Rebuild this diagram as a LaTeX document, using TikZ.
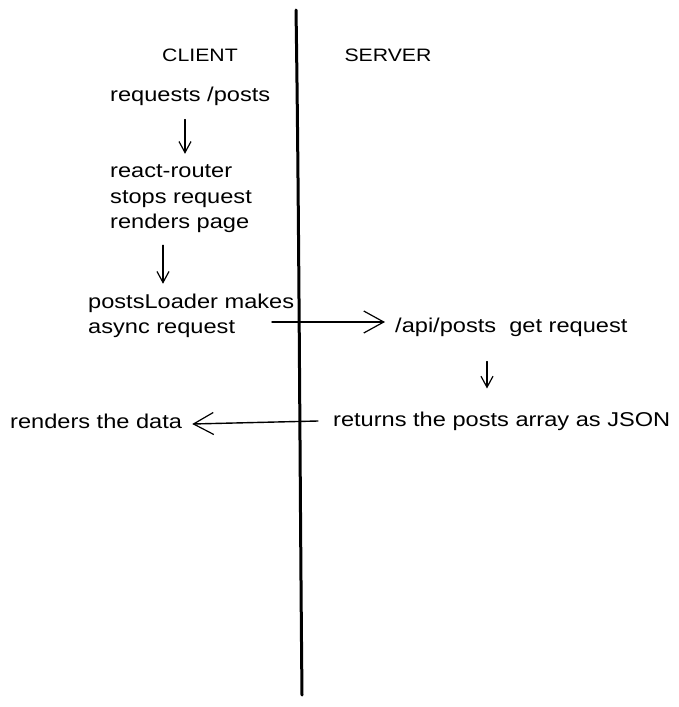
\documentclass[tikz,border=0pt]{standalone}
\usepackage{fontspec}
\setmainfont[FakeStretch=1.18]{Liberation Sans}
\usetikzlibrary{arrows.meta,calc}
\tikzset{
  lbl/.style={inner sep=0pt, anchor=west, align=left, font=\fontsize{20}{25.5}\selectfont},
  hdr/.style={inner sep=0pt, anchor=center, font=\fontsize{18}{20}\selectfont},
  arr/.style={line width=1.2pt, line cap=round, -{Straight Barb[length=11pt,width=12pt,line width=1.2pt]}},
  harr/.style={line width=1.4pt, line cap=round, -{Straight Barb[length=20pt,width=22pt,line width=1.2pt]}},
  divider/.style={line width=3pt, line cap=round}
}
\begin{document}
\begin{tikzpicture}[x=1pt,y=-1pt]
\useasboundingbox (0,0) rectangle (679,707);
\coordinate (top) at (296,10);
\coordinate (bot) at (302,695);
\draw[divider] (top) .. controls (299,200) and (300,500) .. (bot);

\node[hdr] (client) at (200,55) {CLIENT};
\node[hdr] (server) at (388,55) {SERVER};

\node[lbl] (req) at (110,96) {requests /posts};
\node[lbl] (react) at (110,199) {react-router\\stops request\\renders page};
\node[lbl] (loader) at (88,316) {postsLoader makes\\async request};
\node[lbl] (api) at (395,327) {/api/posts\ \ get request};
\node[lbl] (ret) at (333,421) {returns the posts array as JSON};
\node[lbl] (rend) at (10,421) {renders the data};

\draw[arr] ($(req.south west)+(75,14)$) -- ($(react.north west)+(75,-11)$);
\draw[arr] ($(react.south west)+(53,12)$) -- ($(loader.north west)+(75,-10)$);
\draw[harr] ($(loader.west)+(184,6)$) -- ($(api.west)+(-10,-5)$);
\draw[arr] ($(api.south west)+(92,25)$) -- ($(ret.north west)+(154,-23)$);
\draw[harr] ($(ret.west)+(-15,0)$) -- ($(rend.east)+(10,3)$);
\end{tikzpicture}
\end{document}
